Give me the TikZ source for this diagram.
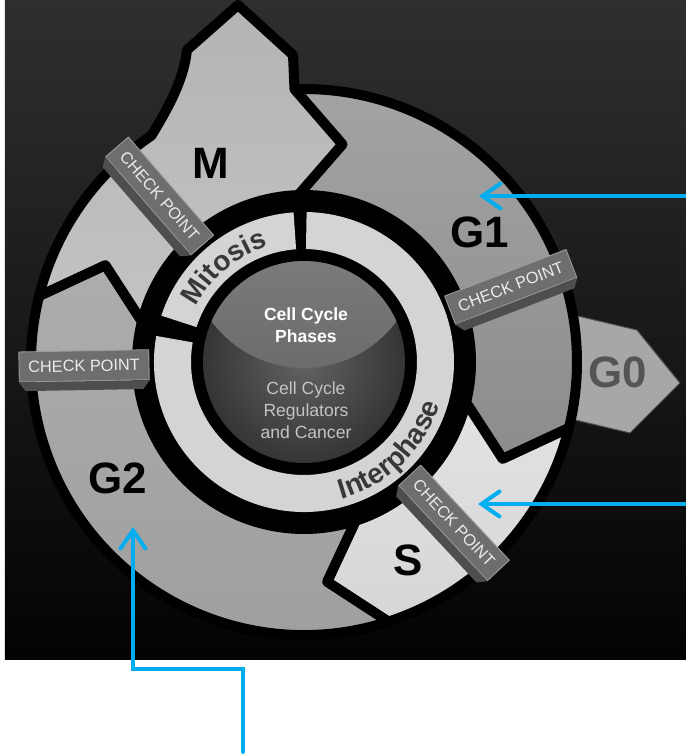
\documentclass[tikz,border=0pt]{standalone}
\usepackage{fontspec}
\setmainfont{Liberation Sans}
\usetikzlibrary{arrows.meta,calc,positioning,decorations.text}

\definecolor{bgtop}{HTML}{2F2F2F}
\definecolor{bgbot}{HTML}{030303}
\definecolor{mfill}{HTML}{B4B4B4}
\definecolor{gonefill}{HTML}{8C8C8C}
\definecolor{gtwofill}{HTML}{9E9E9E}
\definecolor{sfill}{HTML}{D6D6D6}
\definecolor{gzerofill}{HTML}{A7A7A7}
\definecolor{gzerotext}{HTML}{555555}
\definecolor{bandfill}{HTML}{D4D4D4}
\definecolor{ringtext}{HTML}{383838}
\definecolor{diskmid}{HTML}{626262}
\definecolor{diskedge}{HTML}{353535}
\definecolor{lenstop}{HTML}{8A8A8A}
\definecolor{lensbot}{HTML}{6C6C6C}
\definecolor{subtext}{HTML}{C4C4C4}
\definecolor{ckfill}{HTML}{6E6E6E}
\definecolor{ckedge}{HTML}{9C9C9C}
\definecolor{ckside}{HTML}{4E4E4E}
\definecolor{arrowblue}{HTML}{00AEEF}

\newcommand{\ringfont}{\fontsize{16}{19}\selectfont\bfseries\color{ringtext}}

\begin{document}
\begin{tikzpicture}[x=0.02cm, y=0.02cm, line join=round, line cap=round,
    piece/.style={draw=black, line width=0.2cm},
    band/.style={fill=bandfill},
    phase/.style={font=\fontsize{25}{30}\selectfont\bfseries, text=black, inner sep=0pt},
    disktitle/.style={font=\fontsize{10}{12.5}\selectfont\bfseries, text=white, align=center},
    disksub/.style={font=\fontsize{10}{12.5}\selectfont, text=subtext, align=center},
    ckpt/.style={fill=ckfill, draw=ckedge, line width=0.5pt, minimum width=2.6cm,
        minimum height=0.6cm, inner sep=0pt, text=white!92!black,
        font=\fontsize{9.3}{11}\selectfont},
    cpface/.style={fill=ckside},
    pointer/.style={draw=arrowblue, line width=0.08cm, line join=miter,
        -{Straight Barb[length=0.36cm, width=0.5cm, line cap=round]}}]

    \useasboundingbox (-304,-393) rectangle (382,362);
    \shade[top color=bgtop, bottom color=bgbot] (-299,-297) rectangle (382,362);

    % G0 sits behind G1
    \fill[gzerofill, draw=black!70, line width=0.6pt]
        (-12:262) -- (326,-71) -- (376,-21) -- (333,32) -- (11:262) -- cycle;

    % phase pieces, clockwise
    \path[piece, top color=gonefill!80!white, bottom color=gonefill]
        (92:273) arc[start angle=92, end angle=-14, radius=273] -- (-26:221)
        -- (-14:167) arc[start angle=-14, end angle=92, radius=167] -- (80:221) -- cycle;
    \path[piece, top color=sfill!70!white, bottom color=sfill]
        (-14:273) arc[start angle=-14, end angle=-72, radius=273] -- (-84:221)
        -- (-72:167) arc[start angle=-72, end angle=-14, radius=167] -- (-26:221) -- cycle;
    \path[piece, top color=gtwofill!85!white, bottom color=gtwofill]
        (-72:273) arc[start angle=-72, end angle=-194, radius=273] -- (-206:221)
        -- (-194:167) arc[start angle=-194, end angle=-72, radius=167] -- (-84:221) -- cycle;
    \path[piece, top color=mfill, bottom color=mfill!80!white]
        (166:273) arc[start angle=166, end angle=124, radius=273]
        .. controls (-132,260) and (-120,285) .. (-117,312) -- (-66,357) -- (-11,307)
        -- (92:273) -- (80:221) -- (92:167) arc[start angle=92, end angle=166, radius=167]
        -- (154:221) -- cycle;

    \fill[black] (0,0) circle (164);
    \path[band] (94:150) arc[start angle=94, end angle=162, radius=150]
        -- (162:113) arc[start angle=162, end angle=94, radius=113] -- cycle;
    \path[band] (170:150) arc[start angle=170, end angle=449, radius=150]
        -- (449:113) arc[start angle=449, end angle=170, radius=113] -- cycle;

    \path[decorate, decoration={text along path, text align=center,
        text={|\ringfont|Mitosis}}]
        (158:121) arc[start angle=158, end angle=102, radius=121];
    \path[decorate, decoration={text along path, text align=center,
        text={|\ringfont|Interphase}}]
        (-80:142) arc[start angle=-80, end angle=-12, radius=142];

    % centre disk
    \shade[inner color=diskmid, outer color=diskedge] (0,0) circle (101);
    \begin{scope}
        \clip (0,0) circle (101);
        \shade[top color=lenstop, bottom color=lensbot] (0,109) circle (115);
    \end{scope}
    \node[disktitle] (title) at (2,37) {Cell Cycle\\Phases};
    \node[disksub] (regs) at (2,-48) {Cell Cycle\\Regulators\\and Cancer};

    \foreach \a/\r/\nm in {181/1/cpgtwo, 131/-49/cpm, 20/21/cpgone, -47/-47/cps} {
        \node[ckpt, rotate=\r] (\nm) at (\a:220) {CHECK POINT};
        \fill[cpface] (\nm.south west) -- (\nm.south east)
            -- ($(\nm.south east)!-0.3!(\nm.north east)!0.05!(\nm.south west)$)
            -- ($(\nm.south west)!-0.3!(\nm.north west)!0.05!(\nm.south east)$) -- cycle;
    }

    \foreach \x/\y/\txt/\nm in {-93/199/M/lblm, 176/130/G1/lblgone,
        -186/-116/G2/lblgtwo, 104/-198/S/lbls}
        \node[phase] (\nm) at (\x,\y) {\txt};
    \node[phase, text=gzerotext] (lblgzero) at (314,-10) {G0};

    \coordinate (gonetip) at (175,166);
    \coordinate (gonetail) at (382,166);
    \coordinate (stip) at (174,-142);
    \coordinate (stail) at (382,-142);
    \coordinate (gtwotip) at (-171,-165);
    \coordinate (gtwobend) at (-171,-307);
    \coordinate (gtwotail) at (-61,-390);
    \draw[pointer] (gonetail) -- (gonetip);
    \draw[pointer] (stail) -- (stip);
    \draw[pointer] (gtwotail) |- (gtwobend) -- (gtwotip);
\end{tikzpicture}
\end{document}
